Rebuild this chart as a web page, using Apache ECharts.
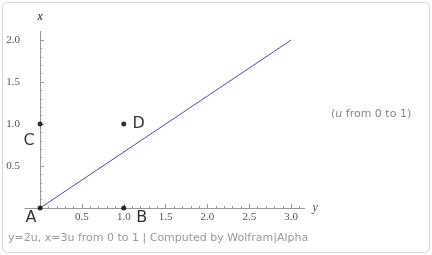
<!DOCTYPE html>
<html><head><meta charset="utf-8">
<script src="https://cdn.jsdelivr.net/npm/echarts@6/dist/echarts.min.js"></script>
<style>html,body{margin:0;padding:0;background:#fff}#c{width:432px;height:255px}</style>
</head><body><div id="c"></div>
<script>
// data
const curve = [[0, 0], [3, 2]];               // horizontal y=3u, vertical x=2u, u from 0 to 1
const pointNames = ['A', 'B', 'C', 'D'];
const pointCoords = [[0, 0], [1, 0], [0, 1], [1, 1]];
const hMajorTicks = [0.5, 1.0, 1.5, 2.0, 2.5, 3.0];
const hMinorTicks = [0.1,0.2,0.3,0.4,0.6,0.7,0.8,0.9,1.1,1.2,1.3,1.4,1.6,1.7,1.8,1.9,2.1,2.2,2.3,2.4,2.6,2.7,2.8,2.9,3.1];
const vMajorTicks = [0.5, 1.0, 1.5, 2.0];
const vMinorTicks = [0.1,0.2,0.3,0.4,0.6,0.7,0.8,0.9,1.1,1.2,1.3,1.4,1.6,1.7,1.8,1.9];

const labelOffsets = {A: [-9, 10], B: [18, 10], C: [-11, 17], D: [15, 0]};
const tickFont = {fontFamily: 'Liberation Serif', fontSize: 11, color: '#555'};
const chart = echarts.init(document.getElementById('c'), null, {renderer: 'canvas'});
const xMin = -0.18, xMax = 3.16, yMin = 0, yMax = 2.1;

function hAxis(ticks, len, showLabel, showLine) {
  return {
    type: 'value', min: xMin, max: xMax, position: 'bottom',
    axisLine: {show: showLine, onZero: false, lineStyle: {color: '#999', width: 1}},
    axisTick: {show: true, inside: true, length: len, customValues: ticks, lineStyle: {color: '#999'}},
    axisLabel: {show: showLabel, customValues: ticks, margin: 4, formatter: v => v.toFixed(1), ...tickFont},
    splitLine: {show: false},
    name: showLine ? 'y' : '', nameLocation: 'end', nameGap: 8,
    nameTextStyle: {fontFamily: 'Liberation Serif', fontStyle: 'italic', fontSize: 12, color: '#555', verticalAlign: 'middle'}
  };
}
function vAxis(ticks, len, showLabel, showLine) {
  return {
    type: 'value', min: yMin, max: yMax, position: 'left',
    axisLine: {show: showLine, onZero: true, onZeroAxisIndex: 0, lineStyle: {color: '#999', width: 1}},
    axisTick: {show: true, inside: true, length: len, customValues: ticks, lineStyle: {color: '#999'}},
    axisLabel: {show: showLabel, customValues: ticks, margin: 5, formatter: v => v.toFixed(1), ...tickFont},
    splitLine: {show: false},
    name: showLine ? 'x' : '', nameLocation: 'end', nameGap: 9,
    nameTextStyle: {fontFamily: 'Liberation Serif', fontStyle: 'italic', fontSize: 12, color: '#555', align: 'center'}
  };
}

chart.setOption({
  animation: false,
  grid: {left: 25, top: 31.6, width: 279.6, height: 176.4, containLabel: false},
  xAxis: [hAxis(hMajorTicks, 4, true, true), hAxis(hMinorTicks, 2, false, false)],
  yAxis: [vAxis(vMajorTicks, 4, true, true), vAxis(vMinorTicks, 2, false, true)],
  graphic: [
    {type: 'rect', shape: {x: 2.5, y: 2.5, width: 427, height: 250, r: 5}, style: {fill: 'none', stroke: '#d6d6d6', lineWidth: 1}, z: -1},
    {type: 'text', left: 8, top: 233, style: {text: 'y=2u, x=3u from 0 to 1 | Computed by Wolfram|Alpha', fontFamily: 'DejaVu Sans', fontSize: 11, fill: '#999'}},
    {type: 'text', left: 331, top: 109, style: {
      text: '({i|u} from 0 to 1)', fontFamily: 'DejaVu Sans', fontSize: 11, fill: '#888',
      rich: {i: {fontStyle: 'italic', fontFamily: 'DejaVu Sans', fontSize: 11, fill: '#888'}}}}
  ],
  series: [
    {type: 'line', data: curve, showSymbol: false, symbol: 'none',
     lineStyle: {color: '#4f4bb0', width: 1}, silent: true},
    {type: 'scatter', symbolSize: 5, itemStyle: {color: '#000'},
     data: pointCoords.map((c, i) => ({
       value: c,
       label: {show: true, formatter: pointNames[i], position: 'inside', offset: labelOffsets[pointNames[i]],
               fontFamily: 'DejaVu Sans', fontSize: 16, color: '#000'}
     })), z: 5}
  ]
});
</script></body></html>
